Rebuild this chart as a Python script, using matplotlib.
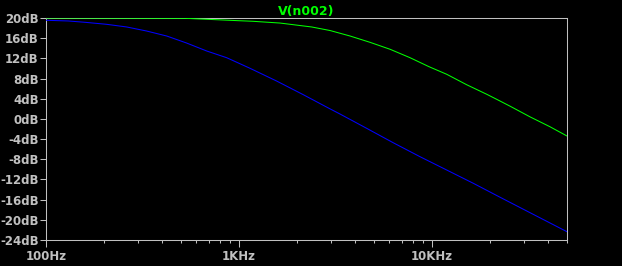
#!/usr/bin/env python3
from matplotlib import pyplot as plt
from matplotlib.ticker import FixedLocator, LogLocator, NullFormatter
import numpy as np

# frequencies (Hz) and magnitude (dB)
freq_green = [100, 525, 898, 1178, 1630, 2380, 2960, 3760, 4770, 6060, 7690,
              9640, 11900, 15100, 19200, 21600, 25360, 32200, 40800, 50000]
db_green = [20.0, 19.94, 19.54, 19.35, 19.0, 18.22, 17.52, 16.43, 15.18, 13.80,
            12.13, 10.35, 8.85, 6.78, 4.88, 3.89, 2.52, 0.40, -1.55, -3.39]

freq_blue = [100, 130.5, 159, 206, 262, 332, 422, 535, 680, 863, 1000, 1140,
             1567, 2152, 2923, 3335, 4580, 6290, 8660, 11910, 16370, 22220, 50000]
db_blue = [19.55, 19.41, 19.15, 18.75, 18.22, 17.42, 16.43, 15.04, 13.46, 12.13,
           11.02, 10.03, 7.5, 4.8, 2.10, 0.97, -1.86, -4.72, -7.49, -10.13,
           -12.77, -15.42, -22.36]

y_ticks = list(range(-24, 21, 4))
y_labels = [f"{v}dB" for v in y_ticks]
x_ticks = [100, 1000, 10000]
x_labels = ["100Hz", "1KHz", "10KHz"]

GRID = "#c0c0c0"


def main():
    fig = plt.figure(figsize=(6.22, 2.66), dpi=100, facecolor="black")
    ax = fig.add_axes([46 / 622, 26 / 266, 521 / 622, 222 / 266], facecolor="black")

    ax.plot(freq_green, db_green, color="#00ff00", lw=0.75, zorder=3)
    ax.plot(freq_blue, db_blue, color="#0000ff", lw=0.75, zorder=3)

    ax.set_xscale("log")
    ax.set_xlim(100, 50000)
    ax.set_ylim(-24, 20)

    ax.xaxis.set_major_locator(FixedLocator(x_ticks))
    ax.set_xticklabels(x_labels)
    ax.xaxis.set_minor_locator(LogLocator(base=10, subs=np.arange(2, 10)))
    ax.xaxis.set_minor_formatter(NullFormatter())
    ax.set_yticks(y_ticks)
    ax.set_yticklabels(y_labels)

    for s in ax.spines.values():
        s.set_color(GRID)
        s.set_linewidth(0.75)
    ax.tick_params(axis="both", which="major", colors=GRID, length=4.3, width=0.75,
                   labelsize=8.5, pad=1)
    ax.tick_params(axis="x", which="minor", colors=GRID, length=2.5, width=0.75)
    ax.tick_params(axis="x", which="major", length=5, pad=2)
    for lab in ax.get_xticklabels() + ax.get_yticklabels():
        lab.set_fontweight("bold")
        lab.set_color(GRID)

    ax.set_title("V(n002)", color="#00ff00", fontsize=9, fontweight="bold", pad=2)

    fig.savefig("out.png", dpi=100, facecolor="black")


if __name__ == "__main__":
    main()
